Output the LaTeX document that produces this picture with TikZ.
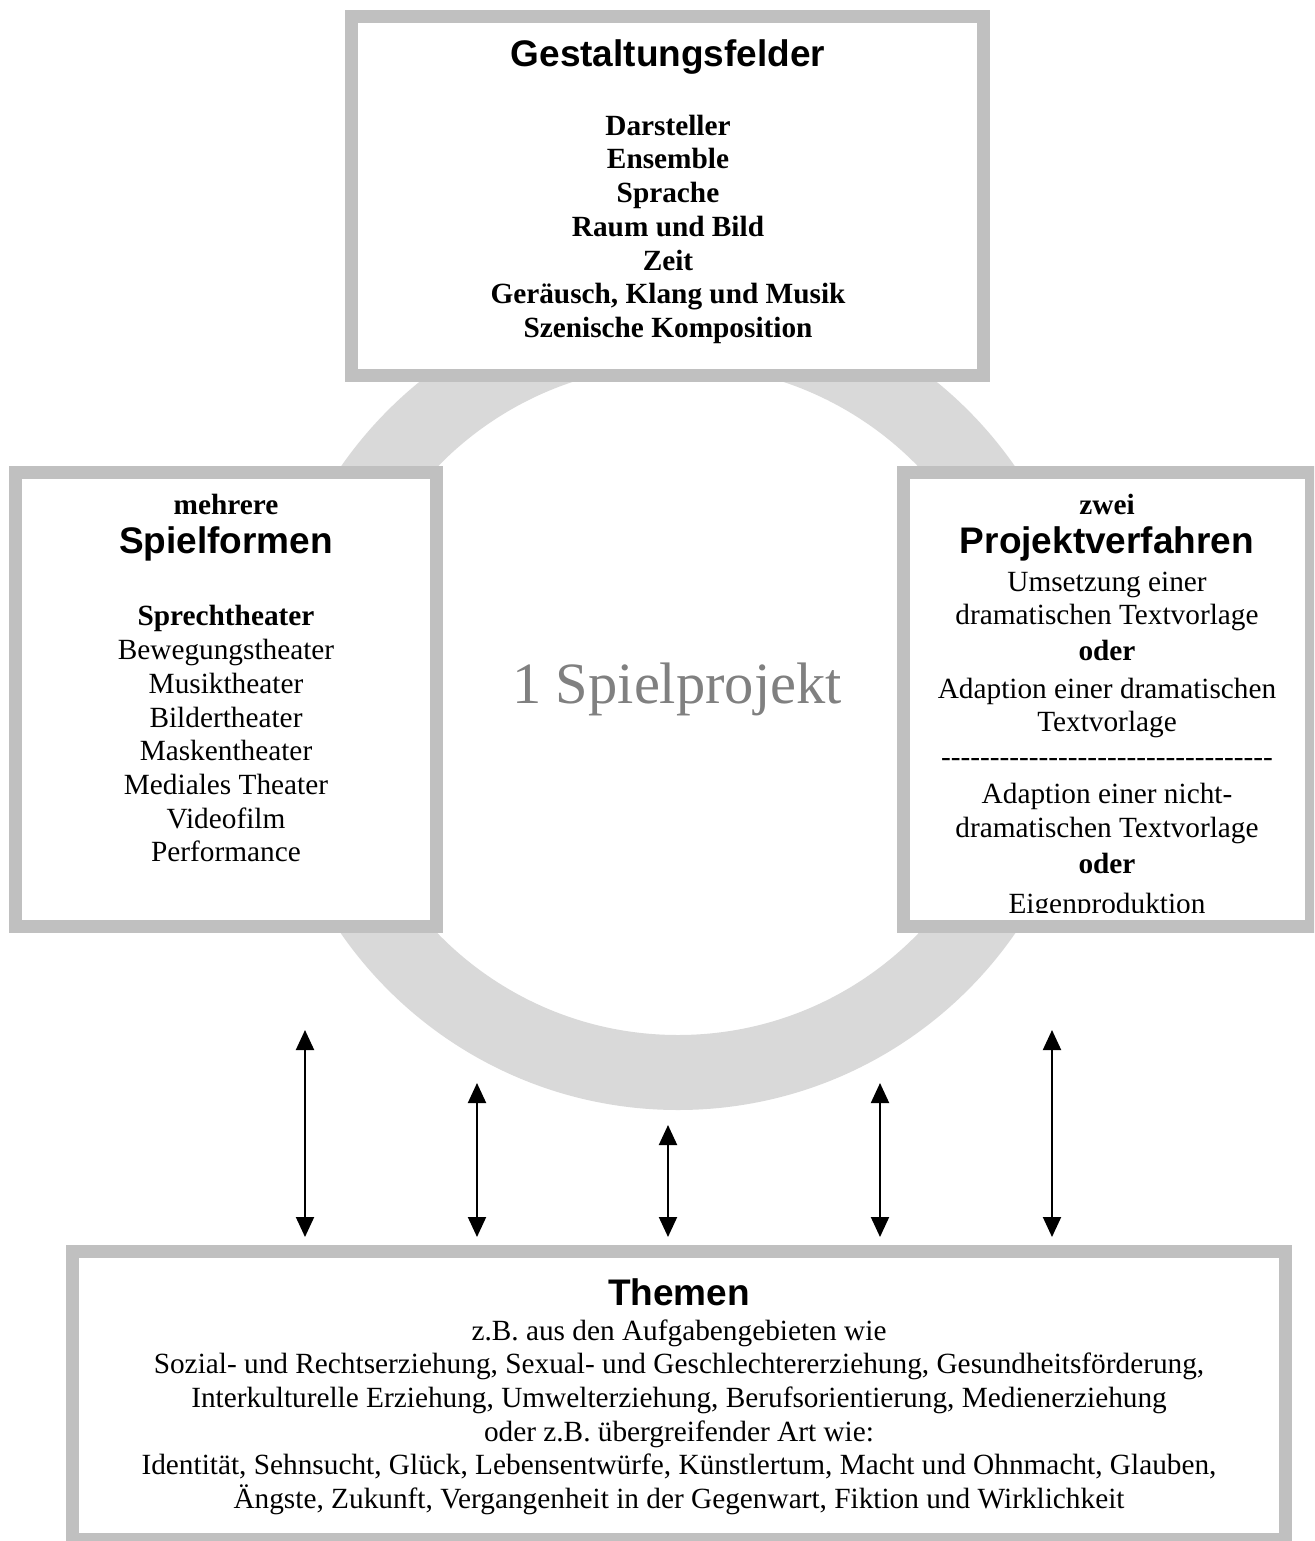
\documentclass[tikz,border=0pt]{standalone}
\usepackage{fontspec}
\setmainfont{Liberation Serif}
\newfontfamily\headfont{Liberation Sans}
\usetikzlibrary{arrows.meta}
\definecolor{boxgray}{HTML}{C0C0C0}
\definecolor{ringgray}{HTML}{D9D9D9}
\definecolor{biggray}{HTML}{808080}
\newcommand\hy{\mbox{-}}
\newcommand\hyten{\hy\hy\hy\hy\hy\hy\hy\hy\hy\hy}
\begin{document}
\begin{tikzpicture}[x=0.5pt,y=-0.5pt,
  frame/.style={draw=boxgray, line width=6.5pt, fill=white},
  body/.style={anchor=base, inner sep=0pt, font=\fontsize{14.65}{16.85}\selectfont},
  bbody/.style={anchor=base, inner sep=0pt, font=\fontsize{14.65}{16.85}\selectfont\bfseries},
  head/.style={anchor=base, inner sep=0pt, font=\fontsize{18.5}{21}\selectfont\headfont\bfseries},
  big/.style={anchor=base, inner sep=0pt, text=biggray, font=\fontsize{29.25}{33}\selectfont},
  link/.style={line width=1pt, {Triangle[length=10pt,width=9pt]}-{Triangle[length=10pt,width=9pt]}}
]
\clip (0,0) rectangle (1314,1541);
\fill[white] (0,0) rectangle (1314,1541);
% ring
\draw[ringgray, line width=37.5pt] (678,700) circle [radius=186.25pt];
% frames
\draw[frame] (351.5,16.5) rectangle (983.5,375.5);
\draw[frame] (15.5,472.5) rectangle (436.5,926.5);
\draw[frame] (903.5,472.5) rectangle (1311.5,926.5);
\draw[frame] (72.5,1251.5) rectangle (1285.5,1539.5);
% top box
\node[head]  (g0) at (668,67)  {Gestaltungsfelder};
\node[bbody] (g1) at (668,135) {Darsteller};
\node[bbody] (g2) at (668,169) {Ensemble};
\node[bbody] (g3) at (668,202) {Sprache};
\node[bbody] (g4) at (668,236) {Raum und Bild};
\node[bbody] (g5) at (668,270) {Zeit};
\node[bbody] (g6) at (668,303) {Geräusch, Klang und Musik};
\node[bbody] (g7) at (668,337) {Szenische Komposition};
% left box
\node[bbody] (l0) at (226,514) {mehrere};
\node[head]  (l1) at (226,553) {Spielformen};
\node[bbody] (l2) at (226,625) {Sprechtheater};
\node[body]  (l3) at (226,659) {Bewegungstheater};
\node[body]  (l4) at (226,693) {Musiktheater};
\node[body]  (l5) at (226,727) {Bildertheater};
\node[body]  (l6) at (226,760) {Maskentheater};
\node[body]  (l7) at (226,794) {Mediales Theater};
\node[body]  (l8) at (226,828) {Videofilm};
\node[body]  (l9) at (226,861) {Performance};
% right box
\begin{scope}
\clip (909,477) rectangle (1306,912);
\node[bbody] (r0) at (1107,514) {zwei};
\node[head]  (r1) at (1107,553) {Projektverfahren};
\node[body]  (r2) at (1107,591) {Umsetzung einer};
\node[body]  (r3) at (1107,624) {dramatischen Textvorlage};
\node[bbody] (r4) at (1107,660) {oder};
\node[body]  (r5) at (1107,698) {Adaption einer dramatischen};
\node[body]  (r6) at (1107,731) {Textvorlage};
\node[body]  (r7) at (1107,766) {\hyten\hyten\hyten\hy\hy\hy\hy};
\node[body]  (r8) at (1107,803) {Adaption einer nicht-};
\node[body]  (r9) at (1107,837) {dramatischen Textvorlage};
\node[bbody] (r10) at (1107,873) {oder};
\node[body]  (r11) at (1107,913) {Eigenproduktion};
\end{scope}
% centre
\node[big] (sp) at (677,703) {1 Spielprojekt};
% bottom box
\node[head] (b0) at (679,1305) {Themen};
\node[body] (b1) at (679,1340) {z.B. aus den Aufgabengebieten wie};
\node[body] (b2) at (679,1373.7) {Sozial- und Rechtserziehung, Sexual- und Geschlechtererziehung, Gesundheitsförderung,};
\node[body] (b3) at (679,1407.4) {Interkulturelle Erziehung, Umwelterziehung, Berufsorientierung, Medienerziehung};
\node[body] (b4) at (679,1441) {oder z.B. übergreifender Art wie:};
\node[body] (b5) at (679,1474.8) {Identität, Sehnsucht, Glück, Lebensentwürfe, Künstlertum, Macht und Ohnmacht, Glauben,};
\node[body] (b6) at (679,1508.5) {Ängste, Zukunft, Vergangenheit in der Gegenwart, Fiktion und Wirklichkeit};
% arrows
\coordinate (a1t) at (305,1030); \coordinate (a1b) at (305,1237);
\coordinate (a2t) at (477,1083); \coordinate (a2b) at (477,1237);
\coordinate (a3t) at (668,1125); \coordinate (a3b) at (668,1237);
\coordinate (a4t) at (880,1083); \coordinate (a4b) at (880,1237);
\coordinate (a5t) at (1052,1030); \coordinate (a5b) at (1052,1237);
\draw[link] (a1t) -- (a1b);
\draw[link] (a2t) -- (a2b);
\draw[link] (a3t) -- (a3b);
\draw[link] (a4t) -- (a4b);
\draw[link] (a5t) -- (a5b);
\end{tikzpicture}
\end{document}
